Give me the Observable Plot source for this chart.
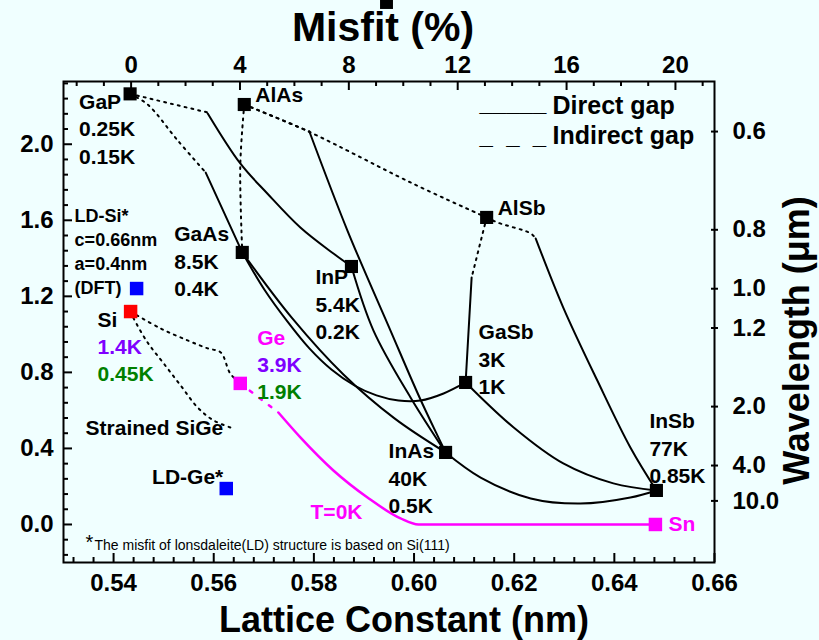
<!DOCTYPE html>
<html><head><meta charset="utf-8">
<script src="https://cdn.jsdelivr.net/npm/d3@7"></script>
<script src="https://cdn.jsdelivr.net/npm/@observablehq/plot@0.6"></script>
<style>
html,body{margin:0;padding:0;background:#f0ffff;}
#chart{width:819px;height:640px;overflow:hidden;}
</style></head><body><div id="chart"></div>
<script>
// ---------- data ----------
const compounds = ["GaP","AlAs","GaAs","InP","AlSb","GaSb","InAs","InSb"];
const compoundLattice = [0.5433,0.5661,0.5657,0.5875,0.6145,0.6103,0.6063,0.6484];
const compoundGap = [2.265,2.209,1.431,1.357,1.615,0.747,0.379,0.179];
const tempHigh = ["0.25K","","8.5K","5.4K","","3K","40K","77K"];
const tempLow  = ["0.15K","","0.4K","0.2K","","1K","0.5K","0.85K"];

const group4 = ["Si","Ge","Sn"];
const group4Lattice = [0.5434,0.5653,0.6482];
const group4Gap = [1.120,0.742,0.0];
const group4High = ["1.4K","3.9K",""];
const group4Low  = ["0.45K","1.9K",""];

const ldNames = ["LD-Si*","LD-Ge*"];
const ldLattice = [0.5446,0.5625];
const ldGap = [1.241,0.189];
const ldSiNote = ["c=0.66nm","a=0.4nm","(DFT)"];

// alloy curves [lattice (nm), gap (eV)]
const GaInP_indirect = [[0.5433,2.265],[0.5588,2.167]];
const GaInP_direct = [[0.5588,2.162],[0.5653,1.899],[0.5707,1.741],[0.5773,1.562],[0.5839,1.425],[0.5875,1.357]];
const GaAsP_indirect = [[0.5433,2.265],[0.5468,2.209],[0.5528,2.020],[0.5584,1.851]];
const GaAsP_direct = [[0.5584,1.851],[0.5657,1.431]];
const AlGaAs_indirect = [[0.5661,2.209],[0.5653,1.888],[0.5657,1.431]];
const AlAsSb_indirect = [[0.5661,2.209],[0.5789,2.067],[0.5993,1.799],[0.6127,1.636],[0.6145,1.615]];
const AlInAs_indirect = [[0.5661,2.209],[0.5791,2.067]];
const AlInAs_direct = [[0.5791,2.067],[0.5867,1.546],[0.5953,1.020],[0.6011,0.668],[0.6063,0.379]];
const InAsP_direct = [[0.5875,1.357],[0.5919,1.020],[0.5993,0.668],[0.6063,0.379]];
const InGaAs_direct = [[0.5657,1.431],[0.5757,1.084],[0.5859,0.789],[0.5961,0.558],[0.6063,0.379]];
const GaAsSb_direct = [[0.5657,1.431],[0.5701,1.236],[0.5747,1.068],[0.5791,0.926],[0.5835,0.815],[0.5881,0.731],[0.5925,0.679],[0.5969,0.652],[0.6013,0.652],[0.6059,0.689],[0.6103,0.747]];
const AlGaSb_indirect = [[0.6145,1.615],[0.6115,1.299]];
const AlGaSb_direct = [[0.6115,1.299],[0.6103,0.747]];
const AlInSb_indirect = [[0.6145,1.615],[0.6167,1.588],[0.6233,1.531],[0.6243,1.504]];
const AlInSb_direct = [[0.6243,1.504],[0.6298,1.141],[0.6366,0.757],[0.6432,0.405],[0.6484,0.179]];
const GaInSb_direct = [[0.6103,0.747],[0.6199,0.510],[0.6298,0.321],[0.6398,0.216],[0.6484,0.179]];
const InAsSb_direct = [[0.6063,0.379],[0.6133,0.247],[0.6233,0.137],[0.6332,0.110],[0.6432,0.142],[0.6484,0.179]];
const SiGe_indirect = [[0.5434,1.120],[0.5494,1.031],[0.5548,0.968],[0.5588,0.926],[0.5614,0.905],[0.5633,0.794],[0.5653,0.742]];
const SiGe_strained = [[0.5434,1.120],[0.5440,1.084],[0.5468,0.957],[0.5500,0.847],[0.5534,0.731],[0.5568,0.615],[0.5600,0.547],[0.5639,0.505]];
const GeSn_indirect = [[0.5653,0.742],[0.5729,0.589]];
const GeSn_direct = [[0.5729,0.589],[0.5773,0.458],[0.5839,0.284],[0.5907,0.142],[0.5973,0.032],[0.6009,0.0],[0.6482,0.0]];

// ticks
const xTicks = [0.54,0.56,0.58,0.60,0.62,0.64,0.66];
const yTicks = [0.0,0.4,0.8,1.2,1.6,2.0];
const misfitTicks = [0,4,8,12,16,20];
const wavelengthTicks = [0.6,0.8,1.0,1.2,2.0,4.0,10.0];
const siLattice = 0.5435; // misfit reference (Si)
const footnote = "The misfit of lonsdaleite(LD) structure is based on Si(111)";

// ---------- chart ----------
const X = d => d[0], Y = d => d[1];
const BOLD = {fontWeight:"bold"};
const MID = {lineAnchor:"middle"};
const frameW = 651, frameH = 481;
const misfitX = m => siLattice * (1 + m / 100);

const solid = [GaInP_direct, GaAsP_direct, AlInAs_direct, InAsP_direct, InGaAs_direct, GaAsSb_direct, AlGaSb_direct, AlInSb_direct, GaInSb_direct, InAsSb_direct];
const dotted = [GaInP_indirect, GaAsP_indirect, AlGaAs_indirect, AlAsSb_indirect, AlInAs_indirect, AlGaSb_indirect, AlInSb_indirect, SiGe_indirect, SiGe_strained];

const marks = [];
solid.forEach(c => marks.push(Plot.line(c, {x:X, y:Y, stroke:"black", strokeWidth:2, curve:"catmull-rom"})));
dotted.forEach(c => marks.push(Plot.line(c, {x:X, y:Y, stroke:"black", strokeWidth:2, strokeDasharray:"2,5", curve:"catmull-rom"})));
marks.push(Plot.line(GeSn_indirect, {x:X, y:Y, stroke:"#ff00ff", strokeWidth:2.5, strokeDasharray:"3,9"}));
marks.push(Plot.line(GeSn_direct, {x:X, y:Y, stroke:"#ff00ff", strokeWidth:2.5, curve:"monotone-x"}));

marks.push(Plot.dot(compounds.map((n,i)=>i), {x:i=>compoundLattice[i], y:i=>compoundGap[i], symbol:"square", r:7.4, fill:"black"}));
const g4Colors = ["#ff0000","#ff00ff","#ff00ff"];
marks.push(Plot.dot(group4.map((n,i)=>i), {x:i=>group4Lattice[i], y:i=>group4Gap[i], symbol:"square", r:7.6, fill:i=>g4Colors[i]}));
marks.push(Plot.dot(ldNames.map((n,i)=>i), {x:i=>ldLattice[i], y:i=>ldGap[i], symbol:"square", r:7.6, fill:"#0000ff"}));

const cOff = {GaP:[-51,8], AlAs:[11,-9], GaAs:[-68,-18], InP:[-36,11], AlSb:[11,-9], GaSb:[13,-50], InAs:[-57,-1], InSb:[-7,-69]};
compounds.forEach((n,i) => {
  [n, tempHigh[i], tempLow[i]].forEach((t,k) => {
    if (!t) return;
    marks.push(Plot.text([i], {x:j=>compoundLattice[j], y:j=>compoundGap[j], text:()=>t, dx:cOff[n][0], dy:cOff[n][1]+k*27.5, textAnchor:"start", fontSize:21, ...BOLD, ...MID, fill:"black"}));
  });
});
const gOff = {Si:[-33,9], Ge:[17,-45], Sn:[13,0]};
const g4TextColors = [["black","#7f00ff","#008000"],["#ff00ff","#7f00ff","#008000"],["#ff00ff"]];
group4.forEach((n,i) => {
  [n, group4High[i], group4Low[i]].forEach((t,k) => {
    if (!t) return;
    marks.push(Plot.text([i], {x:j=>group4Lattice[j], y:j=>group4Gap[j], text:()=>t, dx:gOff[n][0], dy:gOff[n][1]+k*27, textAnchor:"start", fontSize:21, ...BOLD, ...MID, fill:g4TextColors[i][k]}));
  });
});
[ldNames[0], ...ldSiNote].forEach((t,k) => {
  marks.push(Plot.text([0], {x:j=>ldLattice[j], y:j=>ldGap[j], text:()=>t, dx:-62, dy:-72.5+k*24.2, textAnchor:"start", fontSize:18, ...BOLD, ...MID}));
});
marks.push(Plot.text([1], {x:j=>ldLattice[j], y:j=>ldGap[j], text:j=>ldNames[j], dx:-3, dy:-11, textAnchor:"end", fontSize:21, ...BOLD, ...MID}));
marks.push(Plot.text([SiGe_strained[SiGe_strained.length-1]], {x:X, y:Y, text:()=>"Strained SiGe", dx:-10, dy:0, textAnchor:"end", fontSize:21, ...BOLD, ...MID}));
marks.push(Plot.text([GeSn_direct[5]], {x:X, y:Y, text:()=>"T=0K", dx:-108, dy:-12, textAnchor:"start", fontSize:21, ...BOLD, ...MID, fill:"#ff00ff"}));

marks.push(Plot.text(["*"], {frameAnchor:"bottom-left", text:d=>d, dx:22, dy:-20, fontSize:20, textAnchor:"start", ...MID}));
marks.push(Plot.text([footnote], {frameAnchor:"bottom-left", text:d=>d, dx:31, dy:-17, fontSize:14, textAnchor:"start", ...MID}));

marks.push(Plot.text(["_____"], {frameAnchor:"top-right", text:d=>d, dx:-235, dy:22, fontSize:24, ...BOLD, ...MID, textAnchor:"start"}));
marks.push(Plot.text(["Direct gap"], {frameAnchor:"top-right", text:d=>d, dx:-162, dy:24, fontSize:25, ...BOLD, ...MID, textAnchor:"start"}));
marks.push(Plot.text(["_\u00a0\u00a0_\u00a0\u00a0_"], {frameAnchor:"top-right", text:d=>d, dx:-235, dy:54.5, fontSize:24, ...BOLD, ...MID, textAnchor:"start"}));
marks.push(Plot.text(["Indirect gap"], {frameAnchor:"top-right", text:d=>d, dx:-162, dy:54.5, fontSize:25, ...BOLD, ...MID, textAnchor:"start"}));

const xMinor = d3.range(133,165).filter(k=>k%5!==0).map(k=>k*0.004);
const yMinor = d3.range(-2,30).filter(k=>k%5!==0).map(k=>k*0.08);
const mMinor = d3.range(-2,22).filter(k=>k%4!==0);
marks.push(Plot.tickX(xTicks, {x:d=>d, insetTop:frameH-9, strokeWidth:2}));
marks.push(Plot.tickX(xMinor, {x:d=>d, insetTop:frameH-5, strokeWidth:2}));
marks.push(Plot.tickY(yTicks, {y:d=>d, insetRight:frameW-9, strokeWidth:2}));
marks.push(Plot.tickY(yMinor, {y:d=>d, insetRight:frameW-5, strokeWidth:2}));
marks.push(Plot.tickX(misfitTicks, {x:misfitX, insetBottom:frameH-9, strokeWidth:2}));
marks.push(Plot.tickX(mMinor, {x:misfitX, insetBottom:frameH-5, strokeWidth:2}));
marks.push(Plot.tickY(wavelengthTicks, {y:d=>1.24/d, insetLeft:frameW-3, insetRight:-4, strokeWidth:2}));

marks.push(Plot.text(xTicks, {x:d=>d, text:d=>d.toFixed(2), frameAnchor:"bottom", dy:21, fontSize:24, ...BOLD, ...MID}));
marks.push(Plot.text(yTicks, {y:d=>d, text:d=>d.toFixed(1), frameAnchor:"left", dx:-10, textAnchor:"end", fontSize:24, ...BOLD, ...MID}));
marks.push(Plot.text(misfitTicks, {x:misfitX, text:d=>String(d), frameAnchor:"top", dy:-16.5, fontSize:24, ...BOLD, ...MID}));
marks.push(Plot.text(wavelengthTicks, {y:d=>1.24/d, text:d=>d.toFixed(1), frameAnchor:"right", dx:18, textAnchor:"start", fontSize:24, ...BOLD, ...MID}));

marks.push(Plot.text(["Misfit (%)"], {frameAnchor:"top", text:d=>d, dx:-6, dy:-53.5, fontSize:41, ...BOLD, ...MID}));
marks.push(Plot.text(["Lattice Constant (nm)"], {frameAnchor:"bottom", text:d=>d, dx:15, dy:58, fontSize:36, ...BOLD, ...MID}));
marks.push(Plot.text(["Wavelength (\u03bcm)"], {frameAnchor:"right", text:d=>d, rotate:-90, textAnchor:"middle", dx:83, dy:18.5, fontSize:36, ...BOLD, ...MID}));
marks.push(Plot.dot([0], {frameAnchor:"top", symbol:"square", r:7.3, fill:"black", dx:-2.5, dy:-79}));
marks.push(Plot.frame({stroke:"black", strokeWidth:2}));

const chart = Plot.plot({
  width:819, height:640,
  marginLeft:63, marginRight:105, marginTop:81, marginBottom:78,
  x:{domain:[0.53,0.66], axis:null},
  y:{domain:[-0.2,2.33], axis:null},
  style:{background:"#f0ffff", fontFamily:"'Liberation Sans', Arial, sans-serif", color:"black", overflow:"visible"},
  marks
});
document.getElementById("chart").appendChild(chart);
</script></body></html>
